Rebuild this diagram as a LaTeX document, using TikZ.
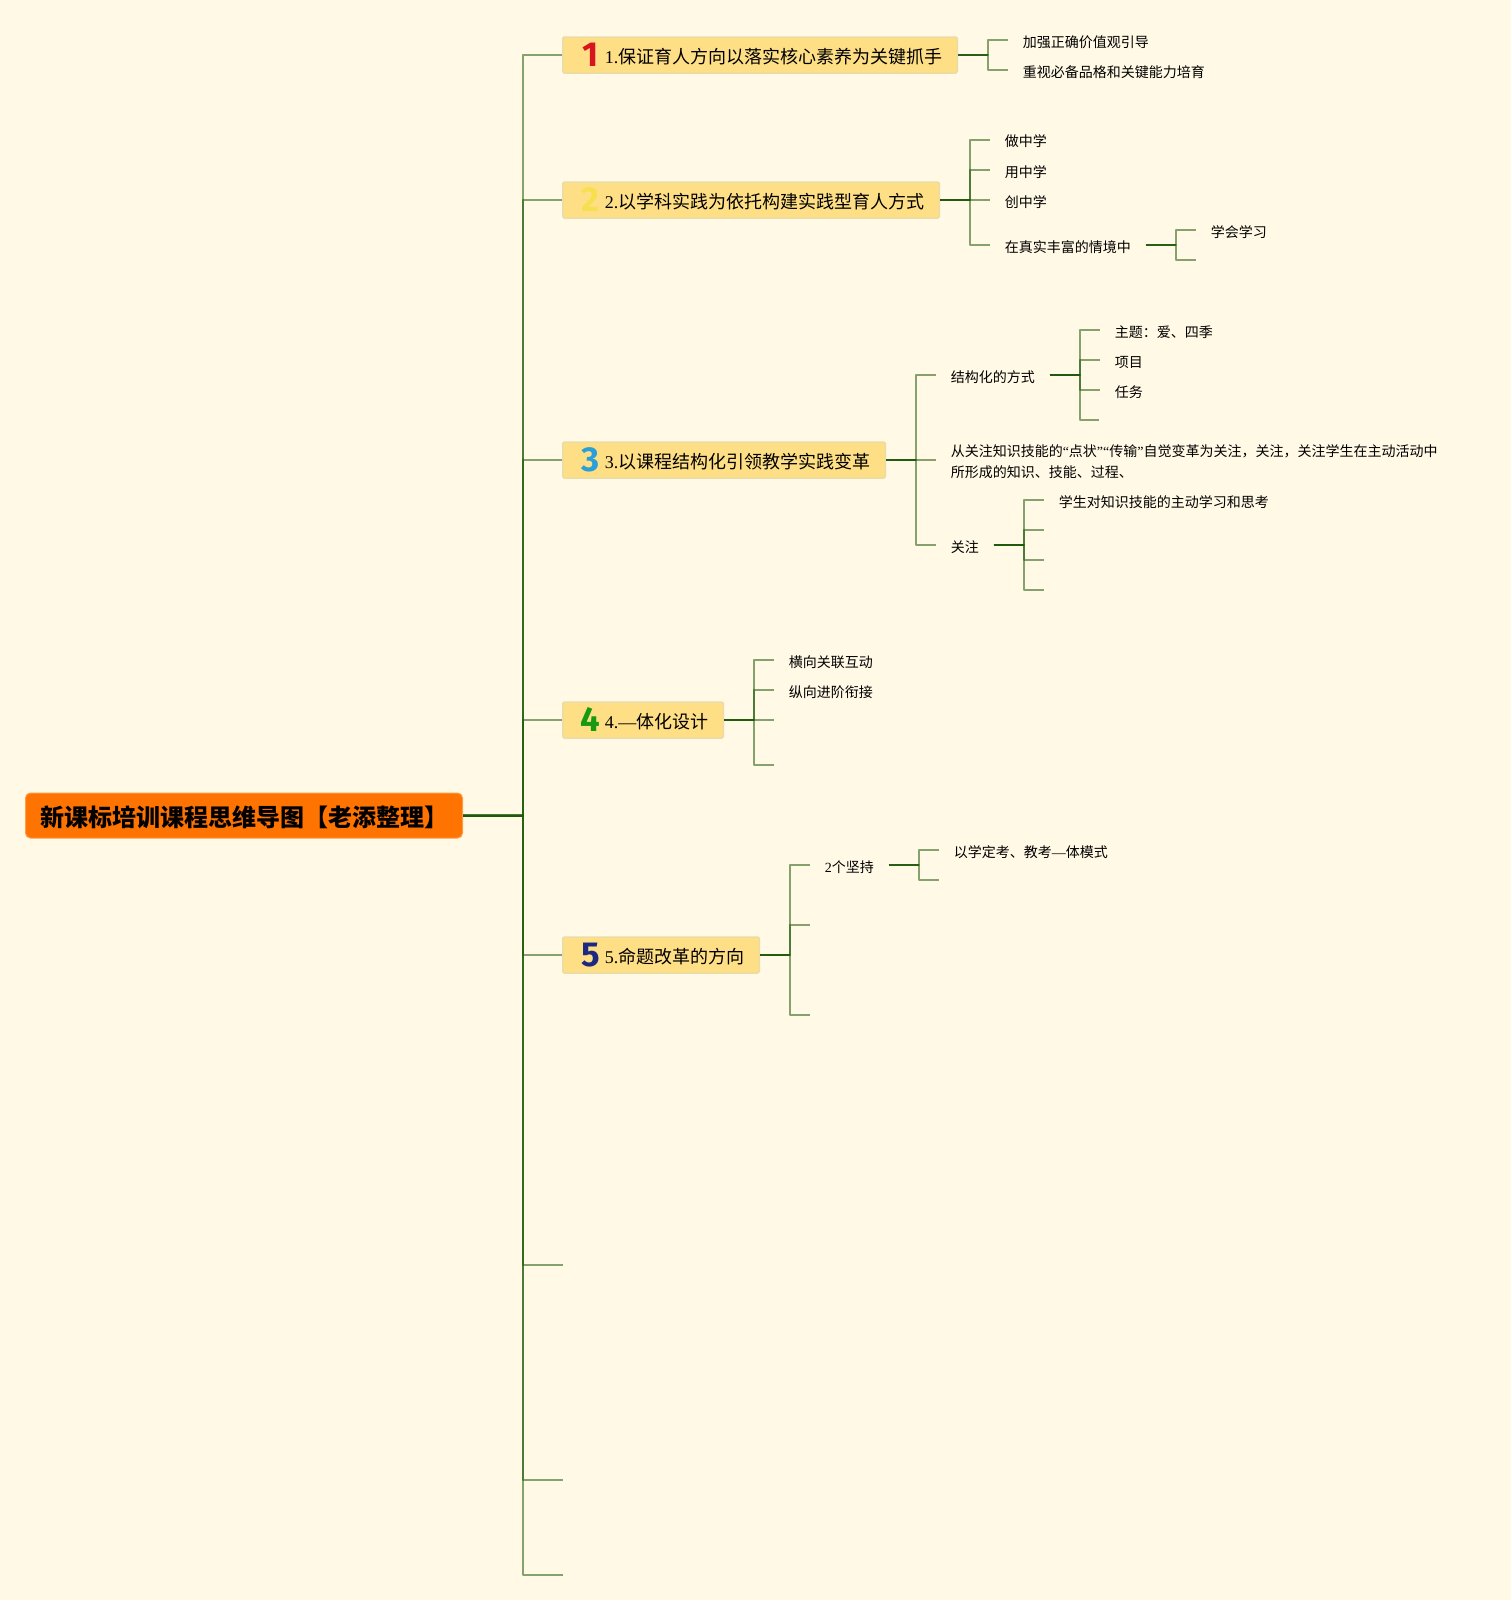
\documentclass[tikz,border=0pt]{standalone}
\usepackage{fontspec}
\setmainfont{Liberation Serif}
\newfontfamily\cjk{Noto Sans CJK SC}
\newfontfamily\iconfont{Fira Sans}
\newdimen\pxd \pxd=0.75pt
\definecolor{bgc}{HTML}{FFF9E6}
\definecolor{linec}{HTML}{1F5A0C}
\definecolor{mainfill}{HTML}{FFDF85}
\definecolor{mainedge}{HTML}{EBDCA6}
\definecolor{rootfill}{HTML}{FF7300}
\definecolor{rootedge}{HTML}{FF9A45}
\definecolor{ic1}{HTML}{D9141E}
\definecolor{ic2}{HTML}{F6E04F}
\definecolor{ic3}{HTML}{2A9FD8}
\definecolor{ic4}{HTML}{159A12}
\definecolor{ic5}{HTML}{1B2A80}
\tikzset{
  conn/.style={draw=linec,draw opacity=.55,line width=2\pxd,line join=round},
  trunk/.style={draw=linec,draw opacity=.8,line width=2.5\pxd},
  rootbox/.style={draw=rootedge,fill=rootfill,line width=1\pxd,rounded corners=5\pxd,anchor=west,inner xsep=14.5\pxd,inner ysep=0pt,minimum height=45\pxd,text height=22\pxd,text depth=0pt,font=\fontsize{18}{22}\selectfont\cjk\bfseries},
  mainbox/.style={draw=mainedge,fill=mainfill,line width=1.5\pxd,rounded corners=1.5\pxd,anchor=west,inner xsep=0pt,inner ysep=0pt,minimum height=36\pxd,text height=17\pxd,text depth=1\pxd,font=\fontsize{13.5}{16}\selectfont},
  leaf/.style={anchor=west,inner xsep=14.5\pxd,inner ysep=0pt,text height=14\pxd,text depth=0pt,font=\fontsize{10.5}{12}\selectfont\cjk},
}
\newcommand\iconnum[2]{\hspace*{14\pxd}\makebox[28\pxd][c]{\smash{\raisebox{-3\pxd}{\fontsize{26}{26}\iconfont\bfseries\color{#1}#2}}}}
\newcommand\mainlabel[3]{\iconnum{#1}{#2}#3\hspace*{15\pxd}}
\newcommand\lnk[3]{\draw[conn] (#1.east) -| (#2,0 |- #3) -- (#3);}
\newcommand\trk[2]{\draw[trunk] (#1.east) -- (#2,0 |- #1.east);}
\begin{document}
\begin{tikzpicture}[x=0.75pt,y=-0.75pt]
\useasboundingbox (0,0) rectangle (1511,1600);
\fill[bgc] (0,0) rectangle (1511,1600);
% root and main topics
\node[rootbox] (root) at (25,815.5) {新课标培训课程思维导图【老添整理】};
\node[mainbox] (m1) at (562,55) {\mainlabel{ic1}{1}{1.{\cjk 保证育人方向以落实核心素养为关键抓手}}};
\node[mainbox] (m2) at (562,200) {\mainlabel{ic2}{2}{2.{\cjk 以学科实践为依托构建实践型育人方式}}};
\node[mainbox] (m3) at (562,460) {\mainlabel{ic3}{3}{3.{\cjk 以课程结构化引领教学实践变革}}};
\node[mainbox] (m4) at (562,720) {\mainlabel{ic4}{4}{4.—{\cjk 体化设计}}};
\node[mainbox] (m5) at (562,955) {\mainlabel{ic5}{5}{5.{\cjk 命题改革的方向}}};
\coordinate (m6) at (563,1264.5);
\coordinate (m7) at (563,1479.5);
\coordinate (m8) at (563,1574.5);
\trk{root}{523}
\foreach \t in {m1.west,m2.west,m3.west,m4.west,m5.west,m6,m7,m8}{\lnk{root}{523}{\t}}
% branch 1
\node[leaf] (a1) at (1008,40) {加强正确价值观引导};
\node[leaf] (a2) at (1008,70) {重视必备品格和关键能力培育};
\trk{m1}{988}
\lnk{m1}{988}{a1.west}\lnk{m1}{988}{a2.west}
% branch 2
\node[leaf] (b1) at (990,139.5) {做中学};
\node[leaf] (b2) at (990,170) {用中学};
\node[leaf] (b3) at (990,200) {创中学};
\node[leaf] (b4) at (990,245) {在真实丰富的情境中};
\trk{m2}{970}
\lnk{m2}{970}{b1.west}\lnk{m2}{970}{b2.west}\lnk{m2}{970}{b3.west}\lnk{m2}{970}{b4.west}
\node[leaf] (b41) at (1196,230) {学会学习};
\coordinate (b42) at (1196,260);
\trk{b4}{1176}
\lnk{b4}{1176}{b41.west}\lnk{b4}{1176}{b42}
% branch 3
\node[leaf] (c1) at (936,375) {结构化的方式};
\node[leaf,align=left,text height=,text depth=,font=\fontsize{10.5}{15.4}\selectfont\cjk] (c2) at (936,460) {\rule{0pt}{11.5pt}从关注知识技能的{\rmfamily “}点状{\rmfamily ”“}传输{\rmfamily ”}自觉变革为关注，关注，关注学生在主动活动中\\所形成的知识、技能、过程、};
\node[leaf] (c3) at (936,545) {关注};
\trk{m3}{916}
\lnk{m3}{916}{c1.west}\lnk{m3}{916}{c2.west}\lnk{m3}{916}{c3.west}
\node[leaf] (c11) at (1100,330) {主题：爱、四季};
\node[leaf] (c12) at (1100,360) {项目};
\node[leaf] (c13) at (1100,390) {任务};
\coordinate (c14) at (1099,420);
\trk{c1}{1080}
\lnk{c1}{1080}{c11.west}\lnk{c1}{1080}{c12.west}\lnk{c1}{1080}{c13.west}\lnk{c1}{1080}{c14}
\node[leaf] (c31) at (1044,500) {学生对知识技能的主动学习和思考};
\coordinate (c32) at (1043.5,530);
\coordinate (c33) at (1043.5,560);
\coordinate (c34) at (1043.5,590);
\trk{c3}{1024}
\lnk{c3}{1024}{c31.west}\lnk{c3}{1024}{c32}\lnk{c3}{1024}{c33}\lnk{c3}{1024}{c34}
% branch 4
\node[leaf] (d1) at (774,660) {横向关联互动};
\node[leaf] (d2) at (774,690) {纵向进阶衔接};
\coordinate (d3) at (774,720);
\coordinate (d4) at (774,765);
\trk{m4}{754}
\lnk{m4}{754}{d1.west}\lnk{m4}{754}{d2.west}\lnk{m4}{754}{d3}\lnk{m4}{754}{d4}
% branch 5
\node[leaf] (e1) at (810,865) {{\rmfamily 2}个坚持};
\coordinate (e2) at (809.5,925);
\coordinate (e3) at (809.5,1015);
\trk{m5}{790}
\lnk{m5}{790}{e1.west}\lnk{m5}{790}{e2}\lnk{m5}{790}{e3}
\node[leaf] (e11) at (939,850) {以学定考、教考{\rmfamily —}体模式};
\coordinate (e12) at (939,880);
\trk{e1}{919}
\lnk{e1}{919}{e11.west}\lnk{e1}{919}{e12}
\end{tikzpicture}
\end{document}
